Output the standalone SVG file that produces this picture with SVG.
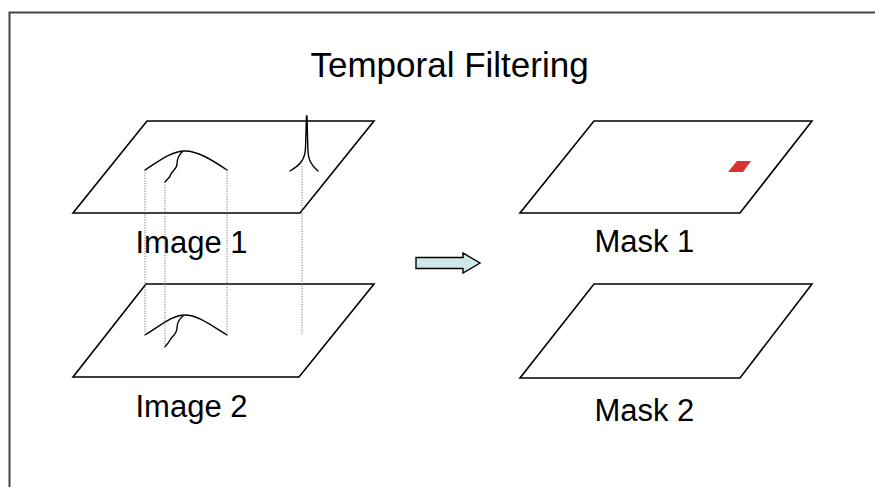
<svg xmlns="http://www.w3.org/2000/svg" width="875" height="487" viewBox="0 0 875 487">
<style>
.plane{fill:#fff;stroke:#000;stroke-width:1.6;stroke-linejoin:miter}
.curve{fill:none;stroke:#000;stroke-width:1.4;stroke-linecap:round}
.dot{fill:none;stroke:#777;stroke-width:1;stroke-dasharray:1.2 1.4}
.lbl{font-family:"Liberation Sans",Arial,sans-serif;font-size:31px;fill:#000}
.title{font-family:"Liberation Sans",Arial,sans-serif;font-size:35px;fill:#000}
</style>
<rect x="0" y="0" width="875" height="487" fill="#fff"/>
<rect id="frame" x="9.5" y="12.5" width="880" height="490" fill="none" stroke="#444" stroke-width="2"/>
<text class="title" x="310.5" y="77">Temporal Filtering</text>

<g id="image1">
  <polygon class="plane" points="147,121 374,121 300,213 73,213"/>
  <path class="curve" d="M145,170 C160,160 172,151 185,151 C198,151 212,160 227,170"/>
  <path class="curve" d="M182,152 C178,156 177,160 177,164 C177,169 172,171 171,174 C170,178 167,179 165,182"/>
  <path class="curve" d="M290,171 C300,165 305,160 305.5,148 L306.5,116 M318,171 C311,165 308,160 307.8,148 L307,116"/>
  <text class="lbl" x="135.5" y="252.5">Image 1</text>
</g>

<g id="image2">
  <polygon class="plane" points="146,284 374,284 299,377 73,377"/>
  <path class="curve" d="M145,335 C160,326 172,315 185,315 C198,315 212,326 227,335"/>
  <path class="curve" d="M183,316 C178,320 177,324 177,328 C177,334 172,336 170,340 C168,344 166,345 165,347"/>
  <text class="lbl" x="135.5" y="416.7">Image 2</text>
</g>

<g id="mask1">
  <polygon class="plane" points="594,121 812,121 740,213 520,213"/>
  <polygon points="737,161 751,161 743,172 728,172" fill="#d93030"/>
  <text class="lbl" x="594.4" y="251.7">Mask 1</text>
</g>

<g id="mask2">
  <polygon class="plane" points="594,284 812,284 740,378 520,378"/>
  <text class="lbl" x="594.4" y="420.7">Mask 2</text>
</g>

<g id="connectors">
  <line class="dot" x1="145" y1="170" x2="145" y2="335"/>
  <line class="dot" x1="165" y1="182" x2="165" y2="347"/>
  <line class="dot" x1="227" y1="170" x2="227" y2="335"/>
  <line class="dot" x1="302" y1="166" x2="302" y2="335"/>
  <polygon points="416,257.5 463,257.5 463,253 480,263 463,273 463,268.5 416,268.5" fill="#cfe8e8" stroke="#000" stroke-width="1.4" stroke-linejoin="miter"/>
</g>
</svg>
